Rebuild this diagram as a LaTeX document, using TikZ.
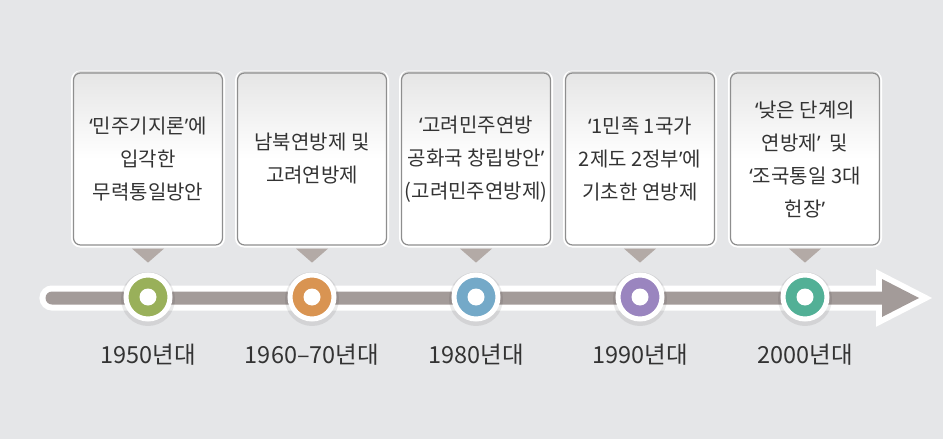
\documentclass[tikz,border=0pt]{standalone}
\usepackage{fontspec}
\setmainfont{Noto Sans CJK KR}
\newfontfamily\latq{Noto Sans}
\newcommand{\oq}{{\latq ‘}}
\newcommand{\cq}{{\latq ’}}
\usetikzlibrary{shadows}
\definecolor{bg}{HTML}{E5E6E8}
\definecolor{bar}{HTML}{A39B99}
\definecolor{tri}{HTML}{B3AAA6}
\definecolor{frame}{HTML}{8E8E8E}
\definecolor{txt}{HTML}{333333}
\definecolor{cgreen}{HTML}{99B05A}
\definecolor{corange}{HTML}{D99452}
\definecolor{cblue}{HTML}{74A9C8}
\definecolor{cpurple}{HTML}{9A85BF}
\definecolor{cteal}{HTML}{52B096}
\tikzset{
  infobox/.style={rectangle, rounded corners=7pt, minimum width=149pt, minimum height=172pt,
    draw=frame, line width=1.2pt, top color=black!10, bottom color=white, middle color=white,
    preaction={draw=white, line width=5pt},
    drop shadow={shadow xshift=0pt, shadow yshift=2pt, opacity=0.25},
    align=center, text=txt, font=\fontsize{20}{33}\selectfont, inner sep=0pt},
  dot/.style={circle, minimum size=44pt, inner sep=0pt, draw=white, line width=5pt},
  hole/.style={circle, fill=white, minimum size=17pt, inner sep=0pt},
  era/.style={text=txt, font=\fontsize{23.5}{26}\selectfont, inner sep=0pt},
  pointer/.style={fill=tri},
}
\begin{document}
\begin{tikzpicture}[x=1pt,y=-1pt]
\useasboundingbox (0,0) rectangle (943,439);
\fill[bg] (0,0) rectangle (943,439);
% timeline arrow
\def\arrowpath{(52,291.5) -- (882,291.5) -- (882,279) -- (919,298) -- (882,317) -- (882,304.5) -- (52,304.5) arc (90:270:6.5) -- cycle}
\draw[white, line width=12pt, line join=miter] \arrowpath;
\fill[bar] \arrowpath;
% boxes
\foreach \n/\x/\t in {
  1/148/{\oq 민주기지론\cq 에\\입각한\\무력통일방안},
  2/312/{남북연방제 및\\고려연방제},
  3/476/{\oq 고려민주연방\\공화국 창립방안\cq\\(고려민주연방제)},
  4/640/{\oq 1민족 1국가\\2제도 2정부\cq 에\\기초한 연방제},
  5/805/{\oq 낮은 단계의\\연방제\cq\ \ 및\\\oq 조국통일 3대\\헌장\cq}}{
  \node[infobox] (b\n) at (\x,159) {\t};
  \fill[pointer] ([xshift=-16pt,yshift=-3pt]b\n.south) -- ([xshift=16pt,yshift=-3pt]b\n.south) -- ([yshift=-17pt]b\n.south) -- cycle;
}
% circles and labels
\foreach \n/\x/\c/\l in {1/148/cgreen/1950년대, 2/312/corange/1960–70년대, 3/476/cblue/1980년대, 4/640/cpurple/1990년대, 5/805/cteal/2000년대}{
  \fill[black, opacity=0.08] (\x,299) circle (27pt);
  \node[dot, fill=\c] (c\n) at (\x,297) {};
  \node[hole] (h\n) at (c\n) {};
  \node[era] (l\n) at (\x,355) {\l};
}
\end{tikzpicture}
\end{document}
